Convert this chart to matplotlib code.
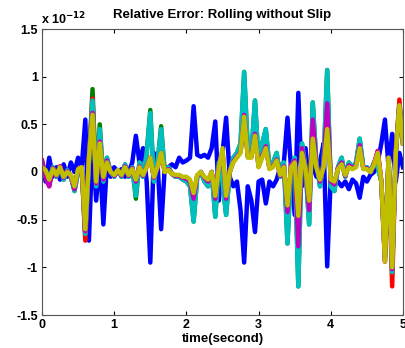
import numpy as np
import matplotlib
matplotlib.use("Agg")
import matplotlib.pyplot as plt

plt.rcParams['font.family'] = ['Liberation Sans', 'DejaVu Sans']

# time axis (seconds) and relative errors (units of 1e-12)
time_s = np.round(np.arange(0, 101) * 0.05, 2)

err_blue = [
    0.10, -0.10, 0.15, -0.05, 0.05, -0.08, 0.08, -0.05, 0.10, 0.00,
    0.15, 0.05, 0.55, -0.72, 0.30, -0.30, 0.15, -0.55, 0.10, -0.05,
    0.05, 0.00, 0.03, -0.05, 0.00, 0.10, 0.38, 0.10, 0.25, -0.10,
    -0.95, 0.20, 0.10, -0.60, 0.05, 0.05, 0.08, 0.05, 0.15, 0.10,
    0.12, 0.15, 0.69, 0.18, 0.16, 0.18, 0.15, 0.25, 0.53, -0.30,
    0.20, 0.57, -0.05, -0.15, -0.10, -0.40, -0.95, -0.15, -0.30, -0.63,
    -0.10, -0.08, -0.33, -0.10, -0.15, -0.08, 0.05, 0.10, 0.57, 0.03,
    -0.45, 0.83, -0.15, 0.25, -0.15, 0.10, -0.05, 0.10, 0.30, -0.99,
    -0.05, -0.12, -0.10, -0.15, -0.10, -0.18, -0.08, -0.12, -0.27, -0.05,
    -0.10, -0.03, 0.00, 0.10, 0.30, 0.55, 0.05, 0.40, -0.10, 0.20,
    0.05]

err_green = [
    0.08, -0.05, -0.10, 0.05, -0.05, 0.05, -0.08, 0.02, -0.05, -0.20,
    0.00, 0.05, -0.70, 0.10, 0.87, -0.15, 0.50, -0.10, 0.15, 0.00,
    -0.05, 0.02, -0.05, 0.08, -0.05, 0.05, -0.28, 0.10, -0.05, 0.20,
    0.65, -0.10, 0.10, 0.48, 0.00, 0.05, -0.02, -0.05, -0.05, -0.08,
    -0.10, -0.15, -0.52, -0.05, 0.00, -0.10, -0.15, 0.00, -0.47, 0.10,
    -0.10, -0.45, 0.00, 0.15, 0.20, 0.30, 1.05, 0.25, 0.20, 0.75,
    0.10, 0.30, 0.45, 0.05, 0.10, 0.20, -0.05, 0.10, -0.75, 0.05,
    0.15, -1.20, 0.30, 0.05, -0.55, 0.73, 0.10, -0.15, 0.10, 1.07,
    -0.15, -0.20, 0.05, 0.15, -0.05, 0.10, 0.05, 0.10, 0.35, 0.05,
    0.05, 0.00, 0.10, 0.05, -0.10, -0.90, 0.15, -1.05, 0.20, 0.70,
    0.30]

err_red = [
    0.12, -0.05, -0.15, 0.04, -0.04, 0.06, -0.06, 0.01, -0.04, -0.18,
    0.03, 0.05, -0.72, 0.15, 0.77, -0.12, 0.35, -0.08, 0.12, 0.00,
    -0.04, 0.02, -0.04, 0.06, -0.04, 0.04, -0.10, 0.06, -0.04, 0.06,
    0.15, -0.06, 0.05, 0.20, 0.00, 0.03, -0.02, -0.04, -0.04, -0.06,
    -0.07, -0.10, -0.25, -0.04, 0.00, -0.06, -0.10, 0.00, -0.27, 0.06,
    0.20, -0.27, 0.00, 0.12, 0.17, 0.22, 0.60, 0.17, 0.16, 0.40,
    0.06, 0.17, 0.27, 0.04, 0.06, 0.13, -0.04, 0.06, -0.42, 0.07,
    0.12, -0.78, 0.25, 0.04, -0.40, 0.55, 0.07, -0.10, 0.07, 0.72,
    -0.10, -0.13, 0.04, 0.10, -0.04, 0.07, 0.04, 0.07, 0.28, 0.04,
    0.04, 0.00, 0.09, 0.22, -0.10, -0.94, 0.15, -1.20, 0.20, 0.76,
    0.30]

err_cyan = [
    0.08, -0.05, -0.10, 0.05, -0.05, 0.05, -0.08, 0.02, -0.05, -0.20,
    0.00, 0.05, -0.65, 0.10, 0.75, -0.15, 0.45, -0.10, 0.15, 0.00,
    -0.05, 0.02, -0.05, 0.08, -0.05, 0.05, -0.25, 0.10, -0.05, 0.20,
    0.62, -0.10, 0.10, 0.45, 0.00, 0.05, -0.02, -0.05, -0.05, -0.08,
    -0.10, -0.15, -0.52, -0.05, 0.00, -0.10, -0.15, 0.00, -0.47, 0.10,
    -0.10, -0.45, 0.00, 0.15, 0.20, 0.30, 1.05, 0.25, 0.20, 0.75,
    0.10, 0.30, 0.45, 0.05, 0.10, 0.20, -0.05, 0.10, -0.75, 0.05,
    0.15, -1.20, 0.30, 0.05, -0.55, 0.73, 0.10, -0.15, 0.10, 1.07,
    -0.15, -0.20, 0.05, 0.15, -0.05, 0.10, 0.05, 0.10, 0.35, 0.05,
    0.05, 0.00, 0.10, 0.05, -0.10, -0.90, 0.15, -1.05, 0.20, 0.70,
    0.30]

err_magenta = [
    0.12, -0.05, -0.15, 0.04, -0.04, 0.06, -0.06, 0.01, -0.04, -0.18,
    0.03, 0.05, -0.62, 0.15, 0.62, -0.12, 0.32, -0.08, 0.12, 0.00,
    -0.04, 0.02, -0.04, 0.06, -0.04, 0.04, -0.10, 0.06, -0.04, 0.06,
    0.15, -0.06, 0.05, 0.20, 0.00, 0.03, -0.02, -0.04, -0.04, -0.06,
    -0.07, -0.10, -0.28, -0.04, 0.00, -0.06, -0.10, 0.00, -0.28, 0.06,
    0.22, -0.28, 0.00, 0.11, 0.16, 0.21, 0.60, 0.16, 0.16, 0.40,
    0.06, 0.17, 0.27, 0.04, 0.06, 0.13, -0.04, 0.06, -0.42, 0.08,
    0.12, -0.78, 0.25, 0.04, -0.40, 0.55, 0.07, -0.10, 0.07, 0.72,
    -0.10, -0.13, 0.04, 0.10, -0.04, 0.07, 0.04, 0.07, 0.28, 0.04,
    0.04, 0.00, 0.09, 0.22, -0.10, -0.94, 0.15, -1.02, 0.20, 0.70,
    0.30]

err_yellow = [
    0.05, 0.02, -0.08, 0.03, -0.03, 0.05, -0.05, 0.00, -0.03, -0.15,
    0.03, 0.05, -0.60, 0.15, 0.60, -0.10, 0.30, -0.05, 0.10, 0.00,
    -0.03, 0.02, -0.03, 0.05, -0.03, 0.03, -0.08, 0.05, -0.03, 0.05,
    0.15, -0.05, 0.05, 0.20, 0.00, 0.02, -0.02, -0.03, -0.03, -0.05,
    -0.05, -0.08, -0.22, -0.03, 0.00, -0.05, -0.08, 0.00, -0.25, 0.05,
    0.25, -0.25, 0.00, 0.10, 0.15, 0.20, 0.58, 0.15, 0.15, 0.38,
    0.05, 0.15, 0.25, 0.03, 0.05, 0.12, -0.03, 0.05, -0.35, 0.05,
    0.10, -0.46, 0.20, 0.03, -0.30, 0.35, 0.05, -0.08, 0.05, 0.45,
    -0.08, -0.10, 0.03, 0.08, -0.03, 0.05, 0.03, 0.05, 0.25, 0.03,
    0.03, 0.00, 0.08, 0.20, -0.10, -0.94, 0.15, -1.00, 0.20, 0.70,
    0.30]

series = [
    (err_blue, '#0000ff'),
    (err_green, '#008000'),
    (err_red, '#ff0000'),
    (err_cyan, '#00bfbf'),
    (err_magenta, '#bf00bf'),
    (err_yellow, '#bfbf00'),
]

x_ticks = [0, 1, 2, 3, 4, 5]
y_ticks = [-1.5, -1, -0.5, 0, 0.5, 1, 1.5]
y_tick_labels = ['-1.5', '-1', '-0.5', '0', '0.5', '1', '1.5']

fig = plt.figure(figsize=(4.05, 3.48), dpi=100)
ax = fig.add_axes([42 / 405, 1 - 315 / 348, 361 / 405, 286 / 348])

for vals, col in series:
    ax.plot(time_s, vals, color=col, linewidth=3.2, solid_joinstyle='round')

ax.set_xlim(0, 5)
ax.set_ylim(-1.5, 1.5)
ax.set_xticks(x_ticks)
ax.set_xticklabels([str(v) for v in x_ticks])
ax.set_yticks(y_ticks)
ax.set_yticklabels(y_tick_labels)
ax.tick_params(direction='in', length=3, width=0.8, top=True, right=True,
               labelsize=9, pad=3)
for lab in ax.get_xticklabels() + ax.get_yticklabels():
    lab.set_fontweight('bold')
for sp in ax.spines.values():
    sp.set_color('#555555')
    sp.set_linewidth(0.8)

ax.set_xlabel('time(second)', fontsize=9.5, fontweight='bold', labelpad=1)
fig.text(222 / 405, 1 - 15 / 348, 'Relative Error: Rolling without Slip',
         ha='center', va='center', fontsize=9.5, fontweight='bold')
fig.text(41 / 405, 1 - 19 / 348, r'x 10$^{\mathbf{-12}}$', ha='left', va='center',
         fontsize=9, fontweight='bold')

fig.savefig('out.png', dpi=100)
